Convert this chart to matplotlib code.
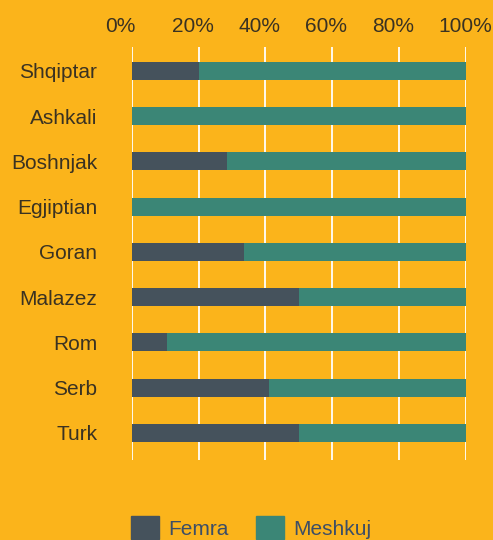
import matplotlib
matplotlib.use("Agg")
import matplotlib.pyplot as plt
import matplotlib.patches as mpatches
import matplotlib.transforms as mtrans

categories = ["Shqiptar", "Ashkali", "Boshnjak", "Egjiptian", "Goran", "Malazez", "Rom", "Serb", "Turk"]
femra = [20, 0, 28.5, 0, 33.5, 50, 10.5, 41, 50]
meshkuj = [100 - f for f in femra]
xticks = [0, 20, 40, 60, 80, 100]
xticklabels = ["0%", "20%", "40%", "60%", "80%", "100%"]

BG = "#FBB41B"
C_F = "#45525C"
C_M = "#3B8676"
TXT = "#3a3222"

plt.rcParams['font.family'] = ['Liberation Sans', 'DejaVu Sans']

fig = plt.figure(figsize=(4.93, 5.40), dpi=100, facecolor=BG)
W, H = 493, 540
left, right, top, bottom = 132, 465.6, 47, 460
ax = fig.add_axes([left / W, 1 - bottom / H, (right - left) / W, (bottom - top) / H])
ax.set_facecolor(BG)

y = list(range(len(categories)))
ax.barh(y, femra, height=0.4, color=C_F, zorder=3)
ax.barh(y, meshkuj, left=femra, height=0.4, color=C_M, zorder=3)

ax.set_xlim(0, 100)
ax.set_ylim(8.6, -0.53)
ax.set_xticks(xticks)
ax.set_xticklabels(xticklabels)
ax.xaxis.tick_top()
ax.set_yticks(y)
ax.set_yticklabels(categories)
ax.tick_params(axis='x', length=0, pad=8, labelsize=15, labelcolor=TXT)
ax.tick_params(axis='y', length=0, pad=25, labelsize=15, labelcolor=TXT)
shift = mtrans.ScaledTranslation(-27 / 100, 0, fig.dpi_scale_trans)
for lab in ax.get_xticklabels():
    lab.set_horizontalalignment('left')
    lab.set_transform(lab.get_transform() + shift)
for lab in ax.get_yticklabels():
    lab.set_horizontalalignment('right')
for s in ax.spines.values():
    s.set_visible(False)
for xv in xticks:
    ax.axvline(xv, color="white", lw=1.3, zorder=2)

handles = [mpatches.Patch(color=C_F, label="Femra"), mpatches.Patch(color=C_M, label="Meshkuj")]
fig.legend(handles=handles, loc='upper left', bbox_to_anchor=(131 / W, 1 - 516 / H),
           ncol=2, frameon=False, borderpad=0, borderaxespad=0, fontsize=15,
           handlelength=1.35, handleheight=1.35, handletextpad=0.45, columnspacing=1.3,
           labelcolor="#3d4e66")

fig.savefig("out.png", dpi=100, facecolor=BG)
